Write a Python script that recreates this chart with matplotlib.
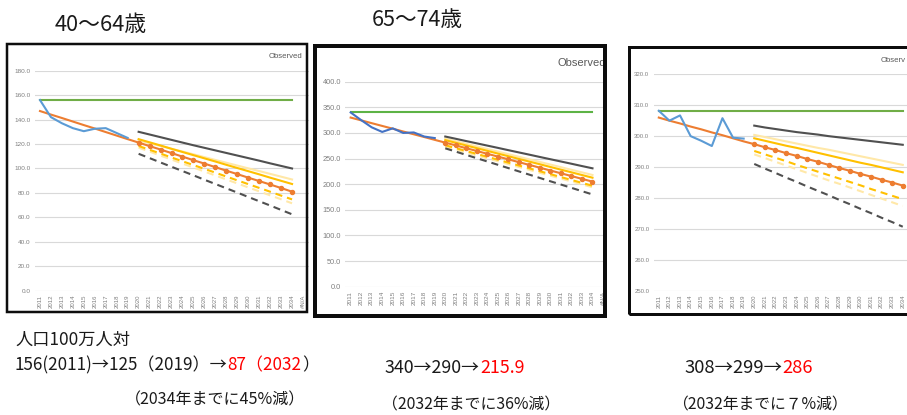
import matplotlib
matplotlib.use("Agg")
import matplotlib.pyplot as plt
from matplotlib.patches import Rectangle

W, H = 907, 415
FAM = ['Noto Sans CJK JP', 'DejaVu Sans']
TICKFAM = ['Liberation Sans', 'DejaVu Sans']

years = [str(y) for y in range(2011, 2035)] + ['#N/A']

# ---------- data: 40~64 ----------
obs1 = [156.0, 142.0, 137.0, 133.0, 130.5, 132.5, 133.0, 129.0, 125.0]
ref1 = 156.0
trend1 = [147.0, 144.1, 141.3, 138.4, 135.5, 132.7, 129.8, 126.9, 124.0, 121.2,
          118.3, 115.5, 112.6, 109.7, 106.8, 104.0, 101.1, 98.2, 95.4, 92.5,
          89.7, 86.9, 84.0, 81.0]
gray1 = [130.0, 127.8, 125.6, 123.4, 121.2, 119.0, 116.9, 114.8, 112.7, 110.6,
         108.5, 106.4, 104.2, 102.1, 100.0]
grayd1 = [112.0, 108.5, 104.9, 101.4, 97.9, 94.4, 90.8, 87.3, 83.8, 80.3,
          76.7, 73.2, 69.7, 66.1, 62.5]
yel1 = [124.0, 121.4, 118.8, 116.1, 113.5, 110.9, 108.3, 105.7, 103.0, 100.4,
        97.8, 95.2, 92.5, 89.9, 87.3]
yeld1 = [118.4, 115.3, 112.2, 109.0, 105.9, 102.8, 99.7, 96.6, 93.4, 90.3,
         87.2, 84.1, 81.0, 77.8, 74.7]
pale1 = [123.0, 120.7, 118.4, 116.1, 113.9, 111.6, 109.3, 107.0, 104.7, 102.4,
         100.1, 97.9, 95.6, 93.3, 91.0]
paled1 = [117.0, 113.8, 110.5, 107.3, 104.0, 100.8, 97.5, 94.3, 91.0, 87.8,
          84.5, 81.3, 78.0, 74.8, 71.5]

# ---------- data: 65~74 ----------
obs2 = [340.0, 325.0, 311.0, 302.0, 309.0, 300.0, 301.0, 293.0, 290.0]
ref2 = 340.0
trend2 = [330.0, 324.6, 319.1, 313.7, 308.3, 302.8, 297.4, 292.0, 286.5, 281.1,
          275.7, 270.2, 264.8, 259.3, 253.9, 248.5, 243.0, 237.6, 232.2, 226.7,
          221.3, 215.9, 210.4, 205.0]
gray2 = [293.0, 288.6, 284.1, 279.7, 275.3, 270.9, 266.4, 262.0, 257.6, 253.1,
         248.7, 244.3, 239.9, 235.4, 231.0]
grayd2 = [270.0, 263.6, 257.1, 250.7, 244.3, 237.9, 231.4, 225.0, 218.6, 212.1,
          205.7, 199.3, 192.9, 186.4, 180.0]
yel2 = [286.0, 280.8, 275.5, 270.3, 265.1, 259.8, 254.6, 249.3, 244.1, 238.9,
        233.6, 228.4, 223.2, 217.9, 212.7]
yeld2 = [276.0, 270.4, 264.7, 259.1, 253.4, 247.8, 242.1, 236.5, 230.9, 225.2,
         219.6, 213.9, 208.3, 202.6, 197.0]
pale2 = [289.0, 283.9, 278.9, 273.8, 268.7, 263.6, 258.6, 253.5, 248.4, 243.4,
         238.3, 233.2, 228.1, 223.1, 218.0]
paled2 = [273.0, 267.4, 261.7, 256.1, 250.4, 244.8, 239.1, 233.5, 227.9, 222.2,
          216.6, 210.9, 205.3, 199.6, 194.0]

# ---------- data: third panel ----------
obs3 = [308.2, 305.0, 306.7, 300.0, 298.5, 296.8, 305.8, 299.5, 299.2]
ref3 = 308.0
trend3 = [306.0, 305.0, 304.1, 303.1, 302.2, 301.2, 300.3, 299.3, 298.3, 297.4,
          296.4, 295.5, 294.5, 293.6, 292.6, 291.7, 290.7, 289.7, 288.8, 287.8,
          286.9, 285.9, 285.0, 284.0]
gray3 = [303.4, 302.8, 302.3, 301.8, 301.3, 300.9, 300.5, 300.0, 299.6, 299.2,
         298.8, 298.4, 298.0, 297.6, 297.2]
grayd3 = [291.0, 289.5, 288.1, 286.6, 285.2, 283.7, 282.3, 280.9, 279.4, 278.0,
          276.5, 275.1, 273.6, 272.2, 270.7]
yel3 = [299.3, 298.5, 297.7, 296.9, 296.2, 295.4, 294.6, 293.8, 293.0, 292.2,
        291.4, 290.7, 289.9, 289.1, 288.3]
yeld3 = [295.2, 294.1, 293.0, 291.9, 290.7, 289.6, 288.5, 287.4, 286.3, 285.2,
         284.1, 282.9, 281.8, 280.7, 279.6]
pale3 = [300.4, 299.7, 299.0, 298.3, 297.6, 296.9, 296.2, 295.6, 294.9, 294.2,
         293.5, 292.8, 292.1, 291.4, 290.7]
paled3 = [294.1, 292.9, 291.7, 290.5, 289.3, 288.1, 286.9, 285.7, 284.6, 283.4,
          282.2, 281.0, 279.8, 278.6, 277.4]

fig = plt.figure(figsize=(W / 100, H / 100), dpi=100)
fig.patch.set_facecolor('white')


def px_axes(x0, y0, x1, y1, **kw):
    return fig.add_axes([x0 / W, 1 - y1 / H, (x1 - x0) / W, (y1 - y0) / H], **kw)


C_BLUE = '#5B9BD5'
C_ORANGE = '#ED7D31'
C_GREEN = '#70AD47'
C_GRAY = '#505050'
C_YEL = '#FFC000'
C_PALE = '#FFE8A8'


def panel(box, ylim, ystep, obs, ref, trend, gray, grayd, yel, yeld, pale, paled,
          xmax, ytick_fs, xtick_fs, blue=C_BLUE, green=C_GREEN):
    ax = px_axes(*box)
    n = len(trend)
    xs = list(range(n))
    fx = xs[9:]
    lw = 1.5
    ax.plot(xs, [ref] * n, color=green, lw=lw, zorder=3)
    ax.plot(fx, pale, color=C_PALE, lw=lw, zorder=2)
    ax.plot(fx, paled, color=C_PALE, lw=lw, ls=(0, (3.4, 2.4)), zorder=2)
    ax.plot(fx, gray, color=C_GRAY, lw=lw, zorder=3)
    ax.plot(fx, grayd, color=C_GRAY, lw=lw, ls=(0, (3.4, 2.4)), zorder=3)
    ax.plot(fx, yel, color=C_YEL, lw=lw, zorder=3)
    ax.plot(fx, yeld, color=C_YEL, lw=lw, ls=(0, (3.4, 2.4)), zorder=3)
    ax.plot(xs, trend, color=C_ORANGE, lw=lw, zorder=4)
    ax.plot(fx, trend[9:], color=C_ORANGE, lw=0, marker='o', ms=2.9, zorder=5)
    ax.plot(xs[:len(obs)], obs, color=blue, lw=lw, zorder=4)
    ax.set_xlim(-0.5, xmax)
    ax.set_ylim(*ylim)
    yt = []
    v = ylim[0]
    while v <= ylim[1] + 1e-9:
        yt.append(v)
        v += ystep
    ax.set_yticks(yt)
    ax.set_yticklabels(['%.1f' % t for t in yt], fontsize=ytick_fs, color='#7F7F7F',
                       family=TICKFAM)
    nt = int(xmax + 0.5) + 1 if xmax >= 23.9 else 24
    ax.set_xticks(range(min(nt, len(years))))
    ax.set_xticklabels(years[:min(nt, len(years))], rotation=90, fontsize=xtick_fs,
                       color='#7F7F7F', family=TICKFAM, va='top', ha='center')
    ax.tick_params(length=0, pad=3)
    ax.grid(axis='y', color='#D9D9D9', lw=0.8, zorder=0)
    for s in ax.spines.values():
        s.set_visible(False)
    ax.set_facecolor('none')
    return ax


panel((34.5, 70.7, 308.5, 290.7), (0, 180), 20, obs1, ref1, trend1, gray1, grayd1,
      yel1, yeld1, pale1, paled1, 24.5, 4.6, 4.3)
panel((345.4, 81.7, 603.0, 286.7), (0, 400), 50, obs2, ref2, trend2, gray2, grayd2,
      yel2, yeld2, pale2, paled2, 24.0, 5.3, 4.6, blue='#4472C4', green='#5DB346')
panel((653.5, 74.3, 907.0, 290.7), (250, 320), 10, obs3, ref3, trend3, gray3, grayd3,
      yel3, yeld3, pale3, paled3, 23.4, 4.3, 4.3)


# legend remnants "Observed" clipped by frames
def clipped_label(box, x, y, size, text='Observed'):
    a = px_axes(*box)
    a.set_axis_off()
    a.set_xlim(box[0], box[2])
    a.set_ylim(box[3], box[1])
    t = a.text(x, y, text, fontsize=size, color='#595959', va='center', ha='left',
               family=TICKFAM, clip_on=True)
    t.set_clip_path(a.patch)


clipped_label((8, 45, 306, 311), 269, 57, 5.6)
clipped_label((316, 47, 603, 314), 557, 63, 8.0)
# third panel: only the visible part of the cut legend entry
fig.text(881 / W, 1 - 60 / H, 'Observ', fontsize=5.6, color='#595959', va='center',
         ha='left', family=TICKFAM)

# frames
for (x0, y0, x1, y1, lwpx) in [(7, 44, 307, 312, 2.5), (314.7, 46, 604.5, 316, 4.0),
                               (629, 47, 915, 314, 3.0)]:
    fig.patches.append(Rectangle((x0 / W, 1 - y1 / H), (x1 - x0) / W, (y1 - y0) / H,
                                 transform=fig.transFigure, fill=False,
                                 edgecolor='#0D0D0D', lw=lwpx * 0.72, zorder=10))

renderer = fig.canvas.get_renderer()


def seq_text(x0, x1, yc, parts):
    # measure at reference size then fit to target width
    ref = 10.0
    tot = 0
    for s, c in parts:
        t = fig.text(0, 0, s, fontsize=ref, family=FAM)
        tot += t.get_window_extent(renderer).width
        t.remove()
    size = ref * (x1 - x0) / tot
    cur = x0
    for s, c in parts:
        t = fig.text(cur / W, 1 - yc / H, s, fontsize=size, color=c, family=FAM,
                     va='center', ha='left')
        cur += t.get_window_extent(renderer).width


K = '#1A1A1A'
R = '#FF0000'
seq_text(55, 147, 25, [('40～64歳', K)])
seq_text(372, 463, 20, [('65～74歳', K)])
seq_text(15, 130, 340, [('人口100万人対', K)])
seq_text(15, 320, 365, [('156(2011)→125（2019）→', K), ('87（2032', R), ('）', K)])
seq_text(125, 305, 400, [('（2034年までに45%減）', K)])
seq_text(385, 525, 368, [('340→290→', K), ('215.9', R)])
seq_text(382, 560, 405, [('（2032年までに36%減）', K)])
seq_text(684, 813, 368, [('308→299→', K), ('286', R)])
seq_text(672, 848, 405, [('（2032年までに７%減）', K)])

fig.savefig('out.png', dpi=100, facecolor='white')
